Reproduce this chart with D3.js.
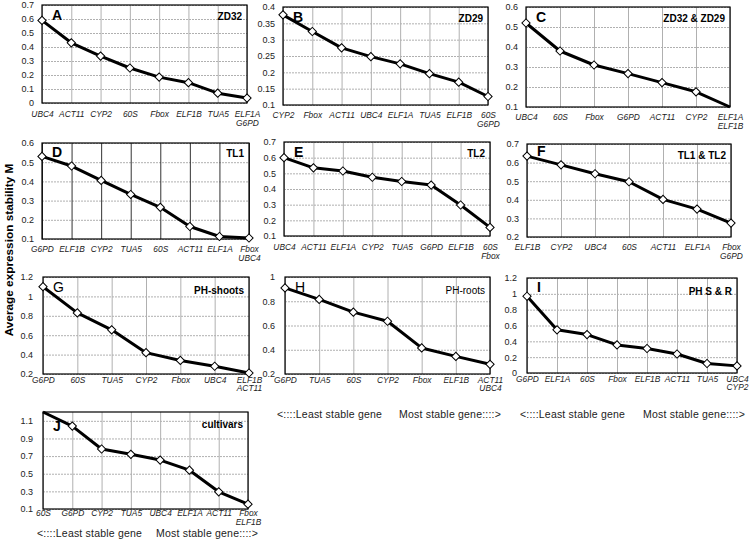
<!DOCTYPE html>
<html><head><meta charset="utf-8">
<script src="https://cdn.jsdelivr.net/npm/d3@7"></script>
<style>
body{margin:0;background:#fff;}
svg{display:block;font-family:"Liberation Sans",Arial,sans-serif;}
</style></head>
<body>
<svg id="chart" width="750" height="554"></svg>
<script>
// ---- data ----
const catsA = ["UBC4","ACT11","CYP2","60S","Fbox","ELF1B","TUA5","ELF1A\nG6PD"];
const valsA = [0.59,0.43,0.335,0.25,0.185,0.145,0.07,0.035];
const ticksA = [0,0.1,0.2,0.3,0.4,0.5,0.6,0.7];

const catsB = ["CYP2","Fbox","ACT11","UBC4","ELF1A","TUA5","ELF1B","60S\nG6PD"];
const valsB = [0.376,0.325,0.275,0.248,0.226,0.196,0.17,0.126];
const ticksB = [0.1,0.15,0.2,0.25,0.3,0.35,0.4];

const catsC = ["UBC4","60S","Fbox","G6PD","ACT11","CYP2","ELF1A\nELF1B"];
const valsC = [0.52,0.38,0.31,0.267,0.222,0.176,0.1];
const ticksC = [0.1,0.2,0.3,0.4,0.5,0.6];

const catsD = ["G6PD","ELF1B","CYP2","TUA5","60S","ACT11","ELF1A","Fbox\nUBC4"];
const valsD = [0.53,0.48,0.405,0.332,0.265,0.165,0.113,0.105];
const ticksD = [0.1,0.2,0.3,0.4,0.5,0.6];

const catsE = ["UBC4","ACT11","ELF1A","CYP2","TUA5","G6PD","ELF1B","60S\nFbox"];
const valsE = [0.6,0.535,0.515,0.475,0.448,0.425,0.298,0.155];
const ticksE = [0.1,0.2,0.3,0.4,0.5,0.6,0.7];

const catsF = ["ELF1B","CYP2","UBC4","60S","ACT11","ELF1A","Fbox\nG6PD"];
const valsF = [0.635,0.588,0.54,0.497,0.402,0.35,0.275];
const ticksF = [0.2,0.3,0.4,0.5,0.6,0.7];

const catsG = ["G6PD","60S","TUA5","CYP2","Fbox","UBC4","ELF1B\nACT11"];
const valsG = [1.1,0.83,0.655,0.42,0.34,0.28,0.21];
const ticksG = [0.2,0.4,0.6,0.8,1,1.2];

const catsH = ["G6PD","TUA5","60S","CYP2","Fbox","ELF1B","ACT11\nUBC4"];
const valsH = [0.91,0.815,0.71,0.635,0.415,0.345,0.28];
const ticksH = [0.2,0.4,0.6,0.8,1];

const catsI = ["G6PD","ELF1A","60S","Fbox","ELF1B","ACT11","TUA5","UBC4\nCYP2"];
const valsI = [0.97,0.545,0.485,0.355,0.31,0.24,0.12,0.09];
const ticksI = [0,0.2,0.4,0.6,0.8,1,1.2];

const catsJ = ["60S","G6PD","CYP2","TUA5","UBC4","ELF1A","ACT11","Fbox\nELF1B"];
const valsJ = [1.2,1.04,0.78,0.72,0.655,0.54,0.295,0.155];
const ticksJ = [0.1,0.3,0.5,0.7,0.9,1.1];

const yTitle = "Average expression stability M";
const legendLeft = "<::::Least stable gene";
const legendRight = "Most stable gene::::>";

// ---- layout (positions / styles) ----
const panels = [
  {letter:"A", name:"ZD32", cats:catsA, vals:valsA, ticks:ticksA, dom:[0,0.7], x0:42, x1:247, y0:5, y1:103, bold:true, lblDy:14, nameDy:15, letDy:15, pad:8},
  {letter:"B", name:"ZD29", cats:catsB, vals:valsB, ticks:ticksB, dom:[0.1,0.4], x0:283, x1:488, y0:7, y1:105, bold:true, lblDy:13, nameDy:15, letDy:15, pad:8},
  {letter:"C", name:"ZD32 & ZD29", cats:catsC, vals:valsC, ticks:ticksC, dom:[0.1,0.6], x0:526, x1:730, y0:7, y1:107, bold:true, lblDy:13, nameDy:15, letDy:15, pad:8},
  {letter:"D", name:"TL1", cats:catsD, vals:valsD, ticks:ticksD, dom:[0.1,0.6], x0:42, x1:249, y0:143, y1:239, bold:true, darkV:true, lblDy:13, nameDy:14, letDy:14, pad:8},
  {letter:"E", name:"TL2", cats:catsE, vals:valsE, ticks:ticksE, dom:[0.1,0.7], x0:284, x1:490, y0:142, y1:236, bold:true, lblDy:14, nameDy:15, letDy:15, pad:8},
  {letter:"F", name:"TL1 & TL2", cats:catsF, vals:valsF, ticks:ticksF, dom:[0.2,0.7], x0:527, x1:731, y0:144, y1:237, bold:true, lblDy:13, nameDy:15, letDy:12, pad:8},
  {letter:"G", name:"PH-shoots", cats:catsG, vals:valsG, ticks:ticksG, dom:[0.2,1.2], x0:43, x1:249, y0:277, y1:374, bold:true, letterNormal:true, lblDy:8.5, nameDy:17, letDy:15, pad:10},
  {letter:"H", name:"PH-roots", cats:catsH, vals:valsH, ticks:ticksH, dom:[0.2,1.0], x0:285, x1:490, y0:277, y1:374, bold:false, lblDy:8.5, nameDy:17, letDy:15, pad:10},
  {letter:"I", name:"PH S & R", cats:catsI, vals:valsI, ticks:ticksI, dom:[0,1.2], x0:527, x1:737, y0:278, y1:373, bold:true, lblDy:8.5, nameDy:17, letDy:14, pad:10},
  {letter:"J", name:"cultivars", cats:catsJ, vals:valsJ, ticks:ticksJ, dom:[0.1,1.2], x0:43, x1:248, y0:412, y1:509, bold:true, lblDy:7, nameDy:16, letDy:19, pad:10}
];
const legends = [
  {x0:277, x1:501, y:418},
  {x0:520, x1:745, y:418},
  {x0:37, x1:258, y:537}
];

const svg = d3.select("#chart");

panels.forEach(p => {
  const g = svg.append("g");
  const x = d3.scalePoint().domain(p.cats).range([p.x0, p.x1]);
  const y = d3.scaleLinear().domain(p.dom).range([p.y1, p.y0]);
  const w = p.x1 - p.x0, h = p.y1 - p.y0;

  // horizontal grid
  const hg = g.append("g").attr("transform", `translate(${p.x0},0)`)
    .call(d3.axisLeft(y).tickValues(p.ticks).tickSize(-w).tickFormat(""));
  hg.select(".domain").remove();
  hg.selectAll("line").attr("stroke", "#b0b0b0").attr("stroke-width", 1).attr("stroke-dasharray", "2,1");

  // vertical grid
  const vg = g.append("g").attr("transform", `translate(0,${p.y1})`)
    .call(d3.axisBottom(x).tickSize(-h).tickFormat(""));
  vg.select(".domain").remove();
  vg.selectAll("line").attr("stroke", p.darkV ? "#333" : "#b0b0b0").attr("stroke-width", 1);

  // frame
  g.append("rect").attr("x", p.x0).attr("y", p.y0).attr("width", w).attr("height", h)
    .attr("fill", "none").attr("stroke", "#000").attr("stroke-width", 1.2);

  // y tick labels
  const ya = g.append("g").attr("transform", `translate(${p.x0},0)`)
    .call(d3.axisLeft(y).tickValues(p.ticks).tickSize(0).tickPadding(p.pad).tickFormat(d => String(d)));
  ya.select(".domain").remove();
  ya.selectAll("text").attr("font-size", 9).attr("fill", "#222")
    .attr("font-family", '"Liberation Sans",Arial,sans-serif');

  // x labels
  const xl = g.append("g").attr("transform", `translate(0,${p.y1})`)
    .call(d3.axisBottom(x).tickSize(0).tickPadding(0).tickFormat(""));
  xl.select(".domain").remove();
  xl.selectAll(".tick").each(function(d) {
    const t = d3.select(this).append("text")
      .attr("text-anchor", "middle").attr("font-size", 8.4).attr("font-style", "italic")
      .attr("fill", "#222").attr("y", p.lblDy);
    d.split("\n").forEach((s, i) => {
      t.append("tspan").attr("x", 0).attr("dy", i === 0 ? 0 : 8.6).text(s);
    });
  });

  // line
  g.append("path").datum(p.vals)
    .attr("fill", "none").attr("stroke", "#000").attr("stroke-width", 3)
    .attr("stroke-linejoin", "round")
    .attr("d", d3.line().x((d, i) => x(p.cats[i])).y(d => y(d)));

  // markers (hidden when sitting on the axis bound)
  const sym = d3.symbol().type(d3.symbolSquare).size(34);
  g.selectAll("path.mk").data(p.vals.map((v, i) => ({v, c: p.cats[i]})).filter(d => d.v > p.dom[0] && d.v < p.dom[1]))
    .enter().append("path").attr("class", "mk")
    .attr("d", sym)
    .attr("transform", d => `translate(${x(d.c)},${y(d.v)}) rotate(45)`)
    .attr("fill", "#fff").attr("stroke", "#000").attr("stroke-width", 1);

  // panel letter
  g.append("text").attr("x", p.x0 + 10).attr("y", p.y0 + p.letDy)
    .attr("font-size", 14).attr("font-weight", (p.bold && !p.letterNormal) ? "bold" : "normal")
    .text(p.letter);
  // panel name
  g.append("text").attr("x", p.x1 - 5).attr("y", p.y0 + p.nameDy).attr("text-anchor", "end")
    .attr("font-size", 10).attr("font-weight", p.bold ? "bold" : "normal")
    .text(p.name);
});

// y-axis title
svg.append("text").attr("transform", "translate(13,250) rotate(-90)")
  .attr("text-anchor", "middle").attr("font-size", 11.8).attr("font-weight", "bold")
  .text(yTitle);

// legends
legends.forEach(l => {
  svg.append("text").attr("x", l.x0).attr("y", l.y).attr("font-size", 10.5).attr("fill", "#222")
    .attr("letter-spacing", 0.2).text(legendLeft);
  svg.append("text").attr("x", l.x1).attr("y", l.y).attr("text-anchor", "end").attr("font-size", 10.5)
    .attr("fill", "#222").attr("letter-spacing", 0.2).text(legendRight);
});
</script>
</body></html>
